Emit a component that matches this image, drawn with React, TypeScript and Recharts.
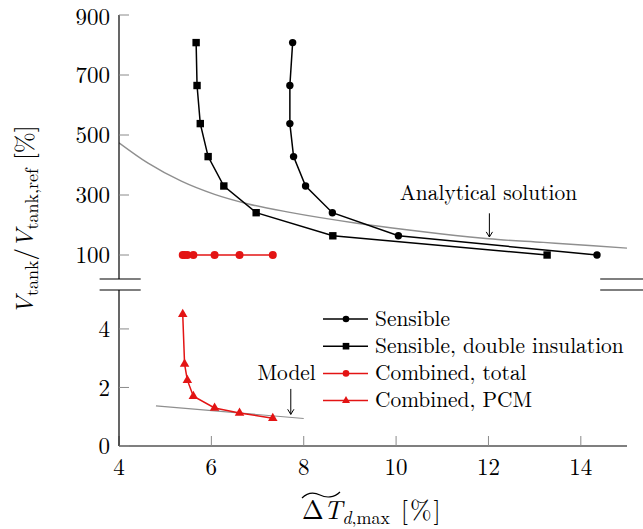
import React from "react";
import {
  LineChart,
  Line,
  XAxis,
  YAxis,
  ReferenceLine,
  ReferenceDot,
  Legend,
} from "recharts";

const FONT =
  "'Latin Modern Roman', 'CMU Serif', 'Liberation Serif', Tinos, 'Times New Roman', 'Nimbus Roman', FreeSerif, 'Noto Serif', 'DejaVu Serif', serif";
const RED = "#e31414";
const GRAY = "#8f8f8f";
const TICK_COLOR = "#8a8a8a";

// axes
const X_TICKS = [4, 6, 8, 10, 12, 14];
const TOP_Y_TICKS = [100, 300, 500, 700, 900];
const BOTTOM_Y_TICKS = [0, 2, 4];

// series
const SENSIBLE_X = [7.76, 7.7, 7.7, 7.78, 8.04, 8.62, 10.05, 14.35];
const SENSIBLE_Y = [808, 665, 538, 428, 330, 241, 164, 100];

const DOUBLE_X = [5.67, 5.69, 5.76, 5.93, 6.27, 6.97, 8.63, 13.27];
const DOUBLE_Y = [808, 665, 538, 428, 330, 241, 164, 100];

const COMBINED_X = [5.38, 5.42, 5.48, 5.61, 6.07, 6.61, 7.33];
const COMBINED_TOTAL_Y = [100, 100, 100, 100, 100, 100, 100];
const COMBINED_PCM_Y = [4.5, 2.8, 2.25, 1.7, 1.3, 1.13, 0.95];

const ANALYTICAL_X = [4.0, 4.63, 5.35, 6.07, 6.8, 7.7, 9.15, 10.23, 11.6, 12.0, 13.19, 14.27, 15.0];
const ANALYTICAL_Y = [474, 406, 346, 302, 270, 242, 206, 184, 160, 154, 142, 131, 123];

const MODEL_X = [4.8, 8.0];
const MODEL_Y = [1.37, 0.94];

const LEGEND_LABELS = [
  "Sensible",
  "Sensible, double insulation",
  "Combined, total",
  "Combined, PCM",
];
const LEGEND_COLORS = ["#000", "#000", RED, RED];
const LEGEND_MARKS = ["circle", "square", "circle", "triangle"];

const zip = (xs: number[], ys: number[]) => xs.map((x, i) => ({ x, y: ys[i] }));

const sensibleData = zip(SENSIBLE_X, SENSIBLE_Y);
const doubleData = zip(DOUBLE_X, DOUBLE_Y);
const totalData = zip(COMBINED_X, COMBINED_TOTAL_Y);
const pcmData = zip(COMBINED_X, COMBINED_PCM_Y);
const analyticalData = zip(ANALYTICAL_X, ANALYTICAL_Y);
const modelData = zip(MODEL_X, MODEL_Y);

const W = 643;
const H = 529;
const PLOT_LEFT = 119;
const RIGHT_MARGIN = 16;
const LABEL_SIZE = 21.4;

function squareDot(size: number, color: string) {
  return (props: any) => {
    const { cx, cy, index } = props;
    if (cx == null || cy == null) return <g key={`s-${index}`} />;
    return (
      <rect
        key={`s-${index}`}
        x={cx - size / 2}
        y={cy - size / 2}
        width={size}
        height={size}
        fill={color}
      />
    );
  };
}

function triangleDot(r: number, color: string) {
  return (props: any) => {
    const { cx, cy, index } = props;
    if (cx == null || cy == null) return <g key={`t-${index}`} />;
    const pts = `${cx},${cy - r} ${cx - r * 0.866},${cy + r / 2} ${cx + r * 0.866},${cy + r / 2}`;
    return <polygon key={`t-${index}`} points={pts} fill={color} />;
  };
}

function arrowShape(props: any) {
  const { x1, y1, x2, y2 } = props;
  const a = Math.atan2(y2 - y1, x2 - x1);
  const len = 6;
  const spread = 0.55;
  const ax = x2 - len * Math.cos(a - spread);
  const ay = y2 - len * Math.sin(a - spread);
  const bx = x2 - len * Math.cos(a + spread);
  const by = y2 - len * Math.sin(a + spread);
  return (
    <g>
      <line x1={x1} y1={y1} x2={x2} y2={y2} stroke="#000" strokeWidth={1} />
      <path d={`M${ax},${ay} L${x2},${y2} L${bx},${by}`} fill="none" stroke="#000" strokeWidth={1} />
    </g>
  );
}

function textShape(label: string) {
  return (props: any) => (
    <text
      x={props.cx}
      y={props.cy}
      textAnchor="middle"
      style={{ fontFamily: FONT }}
      fontSize={LABEL_SIZE}
      fill="#000"
    >
      {label}
    </text>
  );
}

function LegendBox() {
  return (
    <svg width={310} height={115} style={{ overflow: "visible" }}>
      {LEGEND_LABELS.map((label, i) => {
        const y = 19 + i * 27.2;
        const color = LEGEND_COLORS[i];
        const mark = LEGEND_MARKS[i];
        const mx = 24;
        return (
          <g key={label}>
            <line x1={1} y1={y} x2={46} y2={y} stroke={color} strokeWidth={1.5} />
            {mark === "circle" && <circle cx={mx} cy={y} r={3.3} fill={color} />}
            {mark === "square" && <rect x={mx - 3.3} y={y - 3.3} width={6.6} height={6.6} fill={color} />}
            {mark === "triangle" && (
              <polygon
                points={`${mx},${y - 4.6} ${mx - 4},${y + 2.3} ${mx + 4},${y + 2.3}`}
                fill={color}
              />
            )}
            <text x={53} y={y + 6.5} style={{ fontFamily: FONT }} fontSize={LABEL_SIZE} fill="#000">
              {label}
            </text>
          </g>
        );
      })}
    </svg>
  );
}

const tickStyle = { fill: "#000", fontSize: 23, style: { fontFamily: FONT } };
const axisLineStyle = { stroke: "#000", strokeWidth: 1.2 };
const tickLineStyle = { stroke: TICK_COLOR, strokeWidth: 1 };
const breakStyle = { stroke: "#555", strokeWidth: 1.3 };

// break marks, in data units of x
const BREAK_LEFT = [3.58, 4.47];
const BREAK_RIGHT = [14.42, 15.6];

export default function App() {
  return (
    <div
      style={{
        position: "absolute",
        left: 0,
        top: 0,
        width: W,
        height: H,
        background: "#fff",
        fontFamily: FONT,
      }}
    >
      {/* upper panel */}
      <div style={{ position: "absolute", left: 0, top: 0 }}>
        <LineChart
          width={W}
          height={300}
          margin={{ top: 15, right: RIGHT_MARGIN, bottom: 21, left: 0 }}
          style={{ overflow: "visible", fontFamily: FONT }}
        >
          <XAxis
            xAxisId="x"
            type="number"
            dataKey="x"
            orientation="top"
            domain={[4, 15]}
            ticks={X_TICKS}
            allowDataOverflow
            height={0}
            tick={false}
            tickSize={-10}
            axisLine={axisLineStyle}
            tickLine={tickLineStyle}
          />
          <YAxis
            yAxisId="l"
            type="number"
            domain={[20, 900]}
            ticks={TOP_Y_TICKS}
            allowDataOverflow
            width={PLOT_LEFT}
            tickSize={-10}
            tickMargin={19}
            tick={tickStyle}
            axisLine={axisLineStyle}
            tickLine={tickLineStyle}
          />
          <YAxis
            yAxisId="r"
            orientation="right"
            type="number"
            domain={[20, 900]}
            ticks={TOP_Y_TICKS}
            allowDataOverflow
            width={0}
            tick={false}
            tickSize={-10}
            axisLine={axisLineStyle}
            tickLine={tickLineStyle}
          />
          <Line
            xAxisId="x"
            yAxisId="l"
            data={analyticalData}
            dataKey="y"
            type="monotone"
            stroke={GRAY}
            strokeWidth={1.4}
            dot={false}
            isAnimationActive={false}
          />
          <Line
            xAxisId="x"
            yAxisId="l"
            data={sensibleData}
            dataKey="y"
            type="linear"
            stroke="#000"
            strokeWidth={1.5}
            dot={{ r: 3.7, fill: "#000", stroke: "none" }}
            isAnimationActive={false}
          />
          <Line
            xAxisId="x"
            yAxisId="l"
            data={doubleData}
            dataKey="y"
            type="linear"
            stroke="#000"
            strokeWidth={1.5}
            dot={squareDot(7.4, "#000")}
            isAnimationActive={false}
          />
          <Line
            xAxisId="x"
            yAxisId="l"
            data={totalData}
            dataKey="y"
            type="linear"
            stroke={RED}
            strokeWidth={1.5}
            dot={{ r: 4, fill: RED, stroke: "none" }}
            isAnimationActive={false}
          />
          <ReferenceLine
            xAxisId="x"
            yAxisId="l"
            segment={[{ x: 12.02, y: 239 }, { x: 12.02, y: 160 }]}
            ifOverflow="visible"
            shape={arrowShape}
          />
          <ReferenceDot
            xAxisId="x"
            yAxisId="l"
            x={12.0}
            y={283}
            r={1}
            ifOverflow="visible"
            shape={textShape("Analytical solution")}
          />
          <ReferenceLine
            xAxisId="x"
            yAxisId="l"
            segment={[{ x: BREAK_LEFT[0], y: 20 }, { x: BREAK_LEFT[1], y: 20 }]}
            ifOverflow="visible"
            {...breakStyle}
          />
          <ReferenceLine
            xAxisId="x"
            yAxisId="l"
            segment={[{ x: BREAK_RIGHT[0], y: 20 }, { x: BREAK_RIGHT[1], y: 20 }]}
            ifOverflow="visible"
            {...breakStyle}
          />
        </LineChart>
      </div>

      {/* lower panel */}
      <div style={{ position: "absolute", left: 0, top: 0 }}>
        <LineChart
          width={W}
          height={H}
          margin={{ top: 290, right: RIGHT_MARGIN, bottom: 43, left: 0 }}
          style={{ overflow: "visible", fontFamily: FONT }}
        >
          <XAxis
            xAxisId="x"
            type="number"
            dataKey="x"
            domain={[4, 15]}
            ticks={X_TICKS}
            allowDataOverflow
            height={40}
            tickSize={-10}
            tickMargin={23}
            tick={tickStyle}
            axisLine={axisLineStyle}
            tickLine={tickLineStyle}
          />
          <YAxis
            yAxisId="l"
            type="number"
            domain={[0, 5.33]}
            ticks={BOTTOM_Y_TICKS}
            allowDataOverflow
            width={PLOT_LEFT}
            tickSize={-10}
            tickMargin={19}
            tick={tickStyle}
            axisLine={axisLineStyle}
            tickLine={tickLineStyle}
          />
          <YAxis
            yAxisId="r"
            orientation="right"
            type="number"
            domain={[0, 5.33]}
            ticks={BOTTOM_Y_TICKS}
            allowDataOverflow
            width={0}
            tick={false}
            tickSize={-10}
            axisLine={axisLineStyle}
            tickLine={tickLineStyle}
          />
          <Line
            xAxisId="x"
            yAxisId="l"
            data={modelData}
            dataKey="y"
            type="linear"
            stroke={GRAY}
            strokeWidth={1.2}
            dot={false}
            isAnimationActive={false}
          />
          <Line
            xAxisId="x"
            yAxisId="l"
            data={pcmData}
            dataKey="y"
            type="linear"
            stroke={RED}
            strokeWidth={1.5}
            dot={triangleDot(5.5, RED)}
            isAnimationActive={false}
          />
          <ReferenceLine
            xAxisId="x"
            yAxisId="l"
            segment={[{ x: 7.72, y: 1.95 }, { x: 7.72, y: 1.08 }]}
            ifOverflow="visible"
            shape={arrowShape}
          />
          <ReferenceDot
            xAxisId="x"
            yAxisId="l"
            x={7.63}
            y={2.26}
            r={1}
            ifOverflow="visible"
            shape={textShape("Model")}
          />
          <ReferenceLine
            xAxisId="x"
            yAxisId="l"
            segment={[{ x: BREAK_LEFT[0], y: 5.33 }, { x: BREAK_LEFT[1], y: 5.33 }]}
            ifOverflow="visible"
            {...breakStyle}
          />
          <ReferenceLine
            xAxisId="x"
            yAxisId="l"
            segment={[{ x: BREAK_RIGHT[0], y: 5.33 }, { x: BREAK_RIGHT[1], y: 5.33 }]}
            ifOverflow="visible"
            {...breakStyle}
          />
          <Legend
            layout="vertical"
            align="center"
            verticalAlign="middle"
            content={() => <LegendBox />}
            wrapperStyle={{ position: "absolute", left: 322, top: 300, width: 310, height: 115 }}
          />
        </LineChart>
      </div>

      {/* axis titles */}
      <svg
        width={W}
        height={H}
        style={{ position: "absolute", left: 0, top: 0, pointerEvents: "none", fontFamily: FONT }}
      >
        <text
          transform="translate(33, 220) rotate(-90)"
          textAnchor="middle"
          fontSize={25}
          fill="#000"
        >
          <tspan fontStyle="italic">V</tspan>
          <tspan fontSize={18} dy={5}>tank</tspan>
          <tspan dy={-5}>/</tspan>
          <tspan fontStyle="italic">V</tspan>
          <tspan fontSize={18} dy={5}>tank,ref</tspan>
          <tspan dy={-5}> [%]</tspan>
        </text>
        <path
          d="M302,498 C308,492 314,492 320,495 S334,498 340,492"
          fill="none"
          stroke="#000"
          strokeWidth={1.2}
        />
        <text x={302} y={519} fontSize={26} fill="#000">
          Δ<tspan fontStyle="italic">T</tspan>
          <tspan fontSize={18} dy={5} fontStyle="italic">d</tspan>
          <tspan fontSize={18}>,max</tspan>
          <tspan dy={-5} letterSpacing={2}> [%]</tspan>
        </text>
      </svg>
    </div>
  );
}
